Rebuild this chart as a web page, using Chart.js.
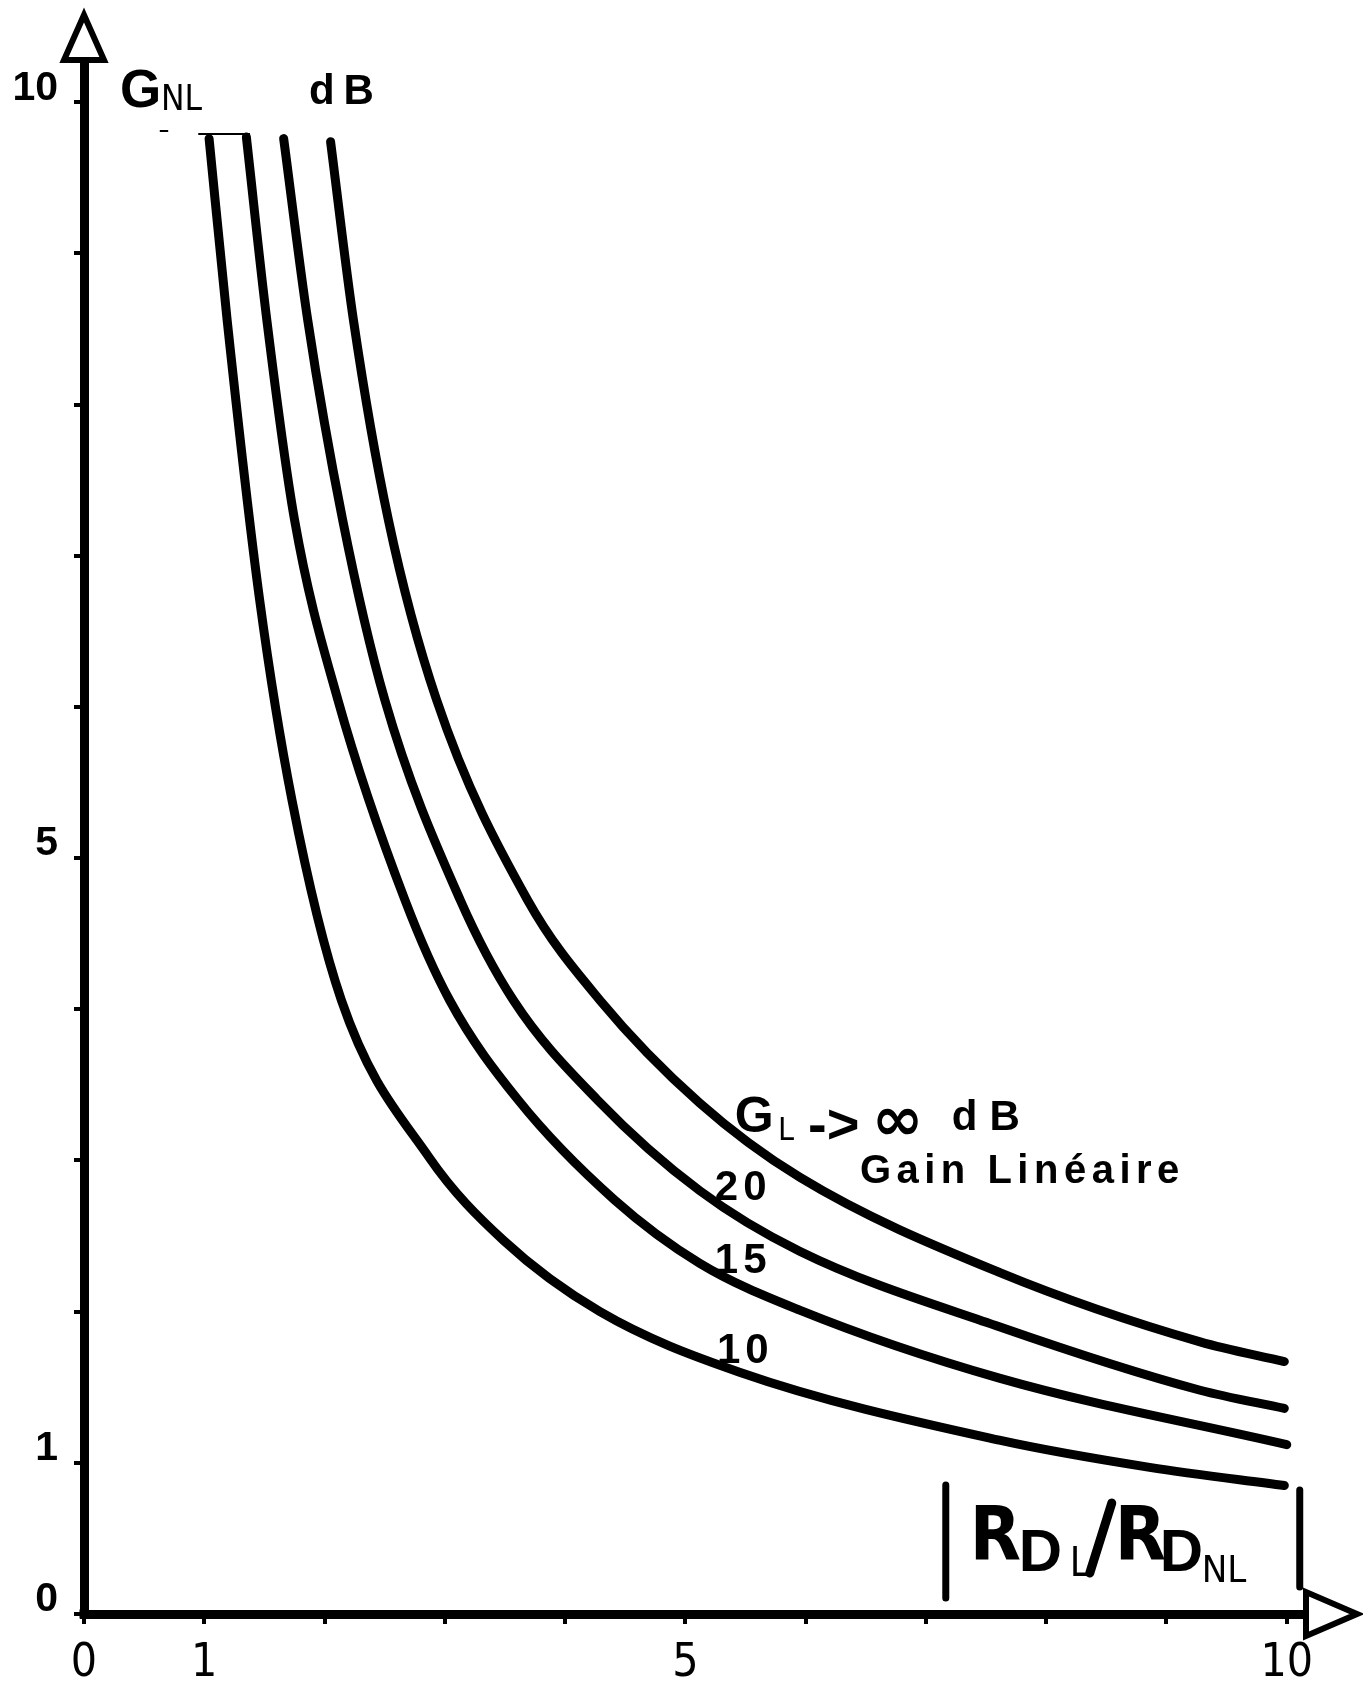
<!DOCTYPE html>
<html>
<head>
<meta charset="utf-8">
<script src="https://cdn.jsdelivr.net/npm/chart.js@4.4.1/dist/chart.umd.min.js"></script>
<style>
  html, body { margin: 0; padding: 0; background: #fff; }
  #wrap { width: 1363px; height: 1681px; }
</style>
</head>
<body>
<div id="wrap"><canvas id="chart" width="1363" height="1681"></canvas></div>
<script>
// Non-linear gain G_NL (dB) versus the ratio |R_DL / R_DNL|, one curve per linear gain G_L
const ratio10 = [1.04, 1.19, 1.46, 1.73, 2.14, 2.87, 3.49, 4.29, 5.45, 7.61, 8.86, 9.98];
const gnl10   = [9.76, 8.56, 6.71, 5.38, 4.06, 3.02, 2.47, 2.00, 1.60, 1.15, 0.97, 0.85];

const ratio15 = [1.35, 1.52, 1.75, 2.11, 2.67, 3.04, 3.61, 4.41, 5.12, 5.95, 7.61, 10.0];
const gnl15   = [9.77, 8.56, 7.24, 6.05, 4.72, 4.06, 3.40, 2.74, 2.32, 2.01, 1.56, 1.12];

const ratio20 = [1.66, 1.86, 2.15, 2.50, 3.13, 3.57, 4.27, 5.12, 5.95, 7.61, 9.28, 9.98];
const gnl20   = [9.76, 8.56, 7.24, 6.05, 4.72, 4.06, 3.40, 2.80, 2.40, 1.90, 1.48, 1.36];

const ratioInf = [2.05, 2.24, 2.53, 2.93, 3.69, 4.29, 5.12, 5.95, 7.61, 9.28, 9.98];
const gnlInf   = [9.74, 8.56, 7.24, 6.05, 4.72, 4.06, 3.38, 2.89, 2.26, 1.80, 1.67];

// thin cap stroke joining the tops of the first curves
const capRatio = [0.63, 0.70, null, 0.95, 1.38];
const capGnl   = [9.81, 9.81, null, 9.79, 9.79];

const curveLabels = ['10', '15', '20'];
const yTickLabels = [0, 1, 5, 10];
const xTickLabels = [0, 1, 5, 10];

const toPoints = (xs, ys) => xs.map((v, i) => ({ x: v, y: ys[i] }));

const SANS = "'Liberation Sans', Arial, sans-serif";
const NARROW = "'Liberation Sans Narrow', 'DejaVu Sans Condensed', 'Liberation Sans', sans-serif";

const curveStyle = {
  borderColor: '#000',
  borderWidth: 9,
  borderCapStyle: 'round',
  borderJoinStyle: 'round',
  pointRadius: 0,
  cubicInterpolationMode: 'monotone',
  fill: false
};

// Text, axis arrows and the |R_DL / R_DNL| title, placed in data units
const annotations = {
  id: 'annotations',
  afterDraw(chart) {
    const { ctx } = chart;
    const xs = chart.scales.x, ys = chart.scales.y;
    const px = v => xs.getPixelForValue(v);
    const py = v => ys.getPixelForValue(v);
    const txt = (s, x, y, font, spacing) => {
      ctx.save();
      ctx.font = font;
      ctx.fillStyle = '#000';
      ctx.textAlign = 'left';
      ctx.textBaseline = 'alphabetic';
      ctx.letterSpacing = (spacing || 0) + 'px';
      ctx.fillText(s, px(x), py(y));
      ctx.restore();
    };
    const seg = (x1, y1, x2, y2, w) => {
      ctx.save();
      ctx.strokeStyle = '#000';
      ctx.lineWidth = w;
      ctx.lineCap = 'round';
      ctx.beginPath();
      ctx.moveTo(px(x1), py(y1));
      ctx.lineTo(px(x2), py(y2));
      ctx.stroke();
      ctx.restore();
    };

    // axis arrow heads (hollow triangles)
    const ca = chart.chartArea;
    ctx.save();
    ctx.strokeStyle = '#000';
    ctx.fillStyle = '#fff';
    ctx.lineWidth = 6;
    ctx.lineJoin = 'miter';
    ctx.beginPath();
    ctx.moveTo(ca.left, ca.top - 45);
    ctx.lineTo(ca.left + 20, ca.top);
    ctx.lineTo(ca.left - 20, ca.top);
    ctx.closePath();
    ctx.fill();
    ctx.stroke();
    ctx.beginPath();
    ctx.moveTo(ca.right + 51, ca.bottom);
    ctx.lineTo(ca.right, ca.bottom - 22);
    ctx.lineTo(ca.right, ca.bottom + 22);
    ctx.closePath();
    ctx.fill();
    ctx.stroke();
    // close the corner where the two axes meet
    ctx.fillStyle = '#000';
    ctx.fillRect(ca.left - 4.5, ca.bottom - 4.5, 9, 9);
    ctx.restore();

    // y-axis title: G_NL dB
    txt('G', 0.30, 9.967, `bold 53px ${SANS}`);
    txt('NL', 0.64, 9.947, `35px ${NARROW}`);
    txt('dB', 1.87, 9.987, `bold 42px ${SANS}`, 9);

    // curve labels
    const labelPos = [[5.262, 1.66], [5.245, 2.255], [5.245, 2.738]];
    curveLabels.forEach((s, i) => txt(s, labelPos[i][0], labelPos[i][1], `bold 42px ${SANS}`, 5));

    // G_L -> ∞ dB / Gain Linéaire
    txt('G', 5.41, 3.188, `bold 50px ${SANS}`);
    txt('L', 5.77, 3.135, `32px ${NARROW}`);
    txt('->', 6.02, 3.115, `bold 56px ${SANS}`);
    txt('\u221E', 6.55, 3.135, `bold 62px 'DejaVu Sans', sans-serif`);
    txt('dB', 7.215, 3.201, `bold 42px ${SANS}`, 12);
    txt('Gain Linéaire', 6.451, 2.851, `bold 40px ${SANS}`, 5.5);

    // x-axis title: |R_DL / R_DNL|
    seg(7.165, 0.853, 7.165, 0.106, 7);
    txt('R', 7.365, 0.357, `bold 74px ${NARROW}`);
    txt('D', 7.772, 0.284, `bold 60px ${SANS}`);
    txt('L', 8.196, 0.251, `40px ${NARROW}`);
    seg(8.362, 0.271, 8.545, 0.734, 9);
    txt('R', 8.57, 0.357, `bold 74px ${NARROW}`);
    txt('D', 8.944, 0.284, `bold 60px ${SANS}`);
    txt('NL', 9.293, 0.212, `38px ${NARROW}`);
    seg(10.108, 0.82, 10.108, 0.179, 7);
  }
};

new Chart(document.getElementById('chart'), {
  type: 'line',
  data: {
    datasets: [
      { label: 'G_L = 10 dB', data: toPoints(ratio10, gnl10), ...curveStyle },
      { label: 'G_L = 15 dB', data: toPoints(ratio15, gnl15), ...curveStyle },
      { label: 'G_L = 20 dB', data: toPoints(ratio20, gnl20), ...curveStyle },
      { label: 'G_L → ∞ dB', data: toPoints(ratioInf, gnlInf), ...curveStyle },
      { label: 'cap', data: toPoints(capRatio, capGnl), borderColor: '#000', borderWidth: 2, pointRadius: 0, spanGaps: false, tension: 0 }
    ]
  },
  options: {
    responsive: false,
    animation: false,
    events: [],
    layout: { padding: { top: 60, right: 57, left: 0, bottom: 0 } },
    plugins: { legend: { display: false }, tooltip: { enabled: false } },
    scales: {
      x: {
        type: 'linear',
        min: 0,
        max: 10.16,
        afterFit(scale) { scale.height = 67; },
        border: { display: true, color: '#000', width: 9 },
        grid: { drawOnChartArea: false, drawTicks: true, tickLength: 10, color: '#000', lineWidth: 4 },
        ticks: {
          stepSize: 1,
          includeBounds: false,
          autoSkip: false,
          maxRotation: 0,
          padding: 12,
          color: '#000',
          font: { family: NARROW, size: 46 },
          callback: v => (xTickLabels.includes(v) ? String(v) : '')
        }
      },
      y: {
        type: 'linear',
        min: 0,
        max: 10.28,
        afterFit(scale) { scale.width = 84; },
        border: { display: true, color: '#000', width: 9 },
        grid: { drawOnChartArea: false, drawTicks: true, tickLength: 10, color: '#000', lineWidth: 4 },
        ticks: {
          stepSize: 1,
          includeBounds: false,
          autoSkip: false,
          padding: 16,
          labelOffset: -14,
          color: '#000',
          font: { family: SANS, size: 41, weight: 'bold' },
          callback: v => (yTickLabels.includes(v) ? String(v) : '')
        }
      }
    }
  },
  plugins: [annotations]
});
</script>
</body>
</html>
